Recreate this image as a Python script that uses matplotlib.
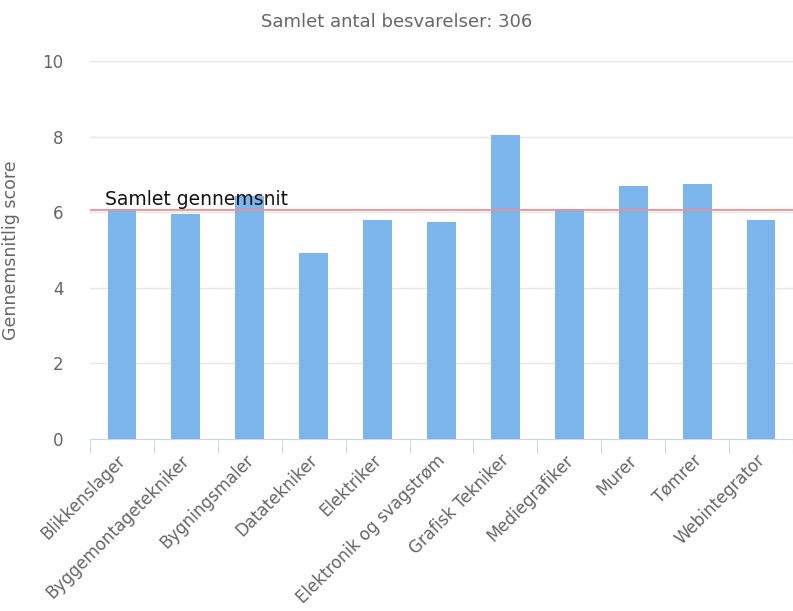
import matplotlib
matplotlib.use("Agg")
import matplotlib.pyplot as plt

categories = ["Blikkenslager", "Byggemontagetekniker", "Bygningsmaler", "Datatekniker",
              "Elektriker", "Elektronik og svagstrøm", "Grafisk Tekniker", "Mediegrafiker",
              "Murer", "Tømrer", "Webintegrator"]
scores = [6.08, 5.95, 6.43, 4.92, 5.79, 5.74, 8.04, 6.09, 6.69, 6.75, 5.79]
average = 6.07
y_ticks = [0, 2, 4, 6, 8, 10]

fig = plt.figure(figsize=(7.93, 6.11), dpi=100)
ax = fig.add_axes([90 / 793, 1 - 439 / 611, 703 / 793, 378 / 611])

x = range(len(categories))
ax.bar(x, scores, width=0.45, color="#7cb5ec", zorder=3)
ax.axhline(average, color="#f28f8f", linewidth=1.3, zorder=4)
ax.text(-0.27, average + 0.12, "Samlet gennemsnit", fontsize=13.5, color="#111111", zorder=5)

ax.set_xlim(-0.5, len(categories) - 0.5)
ax.set_ylim(0, 10)
ax.set_yticks(y_ticks)
ax.grid(axis="y", color="#e6e6e6", linewidth=1, zorder=0)
for s in ["top", "right", "left"]:
    ax.spines[s].set_visible(False)
ax.spines["bottom"].set_color("#ccd6eb")
ax.tick_params(axis="y", length=0, labelsize=12, labelcolor="#666666", pad=19)

# tick marks sit between categories, labels at the centres
ax.set_xticks([i - 0.5 for i in range(len(categories) + 1)], minor=False)
ax.set_xticklabels([])
ax.tick_params(axis="x", which="major", length=10, color="#ccd6eb")
ax.set_xticks([i - 0.08 for i in x], minor=True)
ax.set_xticklabels(categories, minor=True, rotation=45, ha="right", rotation_mode="anchor",
                   fontsize=12, color="#666666")
ax.tick_params(axis="x", which="minor", length=0, pad=9)

ax.set_ylabel("Gennemsnitlig score", fontsize=12.5, color="#666666")
ax.yaxis.set_label_coords(-0.1, 0.5)
fig.text(0.5, 1 - 22 / 611, "Samlet antal besvarelser: 306", ha="center", va="center",
         fontsize=13, color="#666666")

fig.savefig("out.png", dpi=100)
